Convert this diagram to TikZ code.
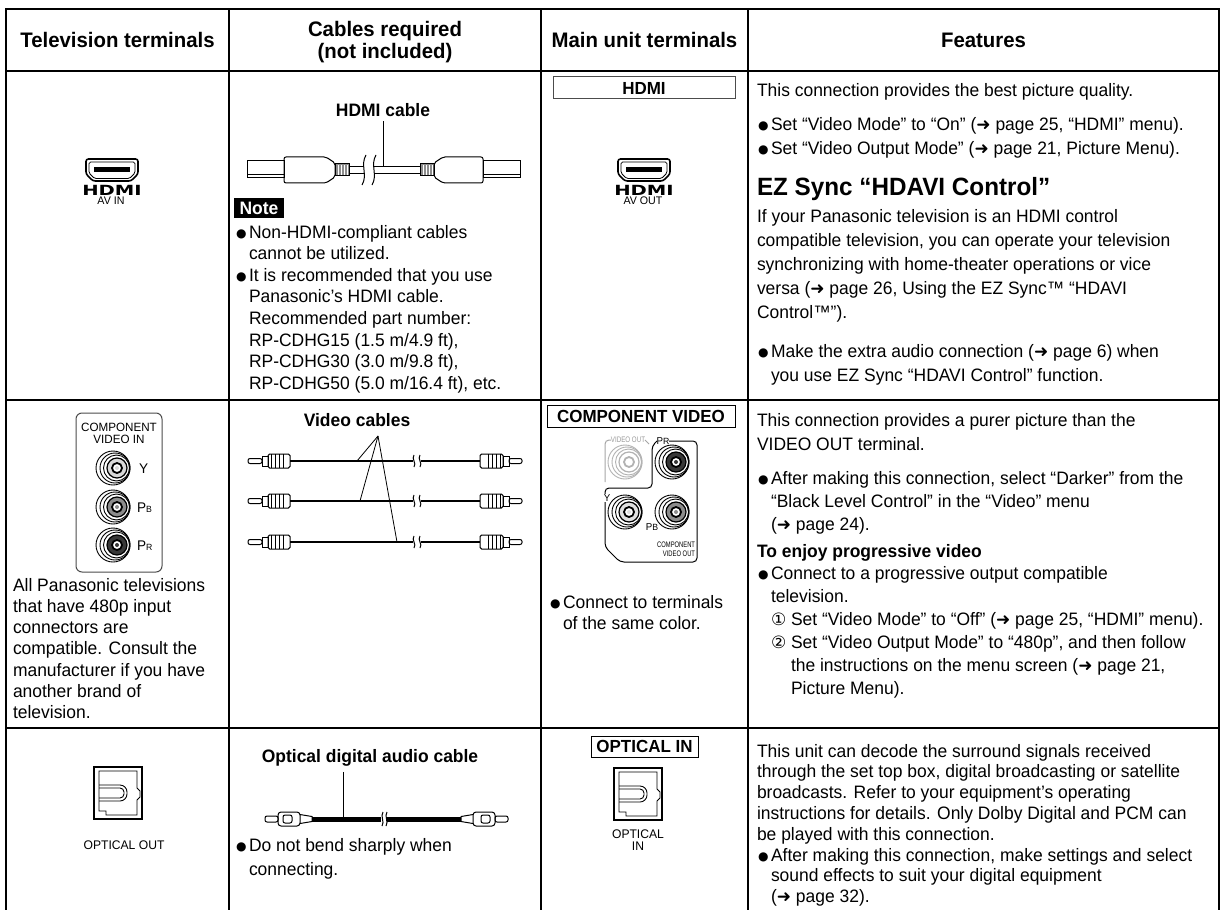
\documentclass[tikz,border=0pt]{standalone}
\usepackage{fontspec}
\usepackage{graphicx}
\setmainfont[FakeStretch=0.97]{Liberation Sans}
\newfontfamily\symf{DejaVu Sans}
\usetikzlibrary{calc}
\newcommand\bul{{\symf\fontsize{6}{6}\selectfont\raisebox{0.3pt}{●}}}
\newcommand\bl{\makebox[6.5pt][l]{\bul}}
\newcommand\arr{{\symf\fontsize{8.5}{9}\selectfont ➜}}
\newcommand\cnum[1]{\makebox[10pt][l]{\symf\fontsize{8.5}{9}\selectfont #1}}
\newcommand\txtline[4]{\node[tx] (#1) at (#2,#3) {#4};}
\newcommand\jsub[1]{{\fontsize{4.5}{5}\selectfont #1}}
% HDMI port icon: x, y, name prefix, label
\newcommand\HdmiPort[4]{%
\begin{scope}[shift={(#1,#2)}]
\draw[line width=0.8pt,rounded corners=1.2pt] (-26,-11) -- (26,-11) -- (26,4) -- (19,11) -- (-19,11) -- (-26,4) -- cycle;
\draw[line width=0.4pt,rounded corners=0.8pt] (-23,-8) -- (23,-8) -- (23,3) -- (17.5,8.5) -- (-17.5,8.5) -- (-23,3) -- cycle;
\fill (-18,-2.5) rectangle (18,2.5);
\node[inner sep=0pt,outer sep=0pt,font=\symf\bfseries\fontsize{7}{7}\selectfont] (#3logo) at (0,20) {\scalebox{1.4}[1]{HDMI}};
\node[inner sep=0pt,outer sep=0pt,font=\fontsize{5.5}{6}\selectfont] (#3lab) at (-1,31) {#4};
\end{scope}}
% RCA jack: x, y, inner fill, line colour
\newcommand\Jack[4]{%
\begin{scope}[shift={(#1,#2)}]
\draw[#4,line width=0.45pt,fill=white] (-2,0) circle (17);
\draw[#4,line width=0.45pt] (0,0) circle (15);
\draw[#4,line width=0.45pt] (1.5,0) circle (13);
\draw[#4,line width=0.6pt,fill=#3] (2,0) circle (10);
\draw[#4,line width=0.9pt,fill=white] (2,0) circle (5);
\fill[#3] (2,0) circle (2);
\end{scope}}
% optical port icon: top-left x, y
\newcommand\OptIcon[2]{%
\begin{scope}[shift={(#1,#2)}]
\draw[line width=0.9pt] (0,0) rectangle (48,52);
\draw[line width=0.45pt] (5,4) -- (43,4) -- (43,21) -- (46,24) -- (46,30) -- (43,33) -- (43,48) -- (12,48) -- (12,44) -- (5,44) -- cycle;
\draw[line width=0.45pt,rounded corners=3.5pt] (5,18) -- (33,18) -- (33,34) -- (5,34);
\draw[line width=0.45pt,rounded corners=2pt] (5,21) -- (30,21) -- (30,31) -- (5,31);
\end{scope}}
% video cable at height y
\newcommand\VCable[1]{%
\draw[pl,rounded corners=1pt] (248,#1-2.5) rectangle (262,#1+2.5);
\draw[pl] (262,#1-5) rectangle (268,#1+5);
\draw[pl,rounded corners=0.8pt] (268,#1-7) rectangle (290,#1+7);
\foreach \xr in {271,275,279,283} \draw[pl] (\xr,#1-7) -- (\xr,#1+7);
\draw[line width=1.3pt] (290,#1) -- (413,#1);
\draw[line width=1.3pt] (421,#1) -- (480,#1);
\draw[pl] (414,#1-6) .. controls (411,#1-2) and (417,#1+2) .. (414,#1+6);
\draw[pl] (420,#1-6) .. controls (417,#1-2) and (423,#1+2) .. (420,#1+6);
\draw[pl,rounded corners=0.8pt] (480,#1-7) rectangle (503,#1+7);
\foreach \xr in {488,492,496,500} \draw[pl] (\xr,#1-7) -- (\xr,#1+7);
\draw[pl] (503,#1-5) rectangle (509,#1+5);
\draw[pl,rounded corners=1pt] (509,#1-2.5) rectangle (522,#1+2.5);
}
\begin{document}
\begin{tikzpicture}[x=0.5pt,y=-0.5pt,
 tx/.style={inner sep=0pt,outer sep=0pt,anchor=base west,font=\fontsize{9}{10}\selectfont},
 txb/.style={inner sep=0pt,outer sep=0pt,anchor=base west,font=\fontsize{9}{10}\selectfont\bfseries},
 hd/.style={inner sep=0pt,outer sep=0pt,anchor=base,font=\fontsize{10.5}{12}\selectfont\bfseries},
 ctitle/.style={inner sep=0pt,outer sep=0pt,anchor=base,font=\fontsize{9}{10}\selectfont\bfseries},
 lbox/.style={draw,line width=0.5pt,inner sep=0pt,minimum height=11pt,font=\fontsize{8.75}{10}\selectfont\bfseries},
 grid/.style={line width=1pt},
 pl/.style={line width=0.5pt},
 tiny/.style={inner sep=0pt,outer sep=0pt,font=\fontsize{5.5}{6}\selectfont},
]
\useasboundingbox (0,0) rectangle (1224,909);
\fill[white] (0,0) rectangle (1224,909);
% ---- table grid
\draw[grid] (6,912) -- (6,9) -- (1219,9) -- (1219,912);
\draw[grid] (6,71) -- (1219,71);
\draw[grid] (6,400) -- (1219,400);
\draw[grid] (6,728) -- (1219,728);
\draw[grid] (229,9) -- (229,912);
\draw[grid] (541,9) -- (541,912);
\draw[grid] (748,9) -- (748,912);
% ---- header
\node[hd] (h1) at (117.5,47.5) {Television terminals};
\node[hd] (h2a) at (385,37) {Cables required};
\node[hd] (h2b) at (385,59) {(not included)};
\node[hd] (h3) at (644.5,47.5) {Main unit terminals};
\node[hd] (h4) at (983.5,47.5) {Features};

% ================= ROW 1 : HDMI
\HdmiPort{112}{170}{tv}{AV IN}
% HDMI cable
\node[ctitle] (hc) at (383,117) {HDMI cable};
\coordinate (hcl) at (383,166.5);
\draw[pl] ([yshift=-2pt]hc.south) -- (hcl);
\draw[pl] (247,161) rectangle (284,178);
\draw[pl] (247,175) -- (284,175);
\draw[pl,rounded corners=1pt] (284,157) -- (326,157) -- (335,163) -- (335,177) -- (326,183) -- (284,183) -- cycle;
\draw[pl,fill=black!45] (335,164) rectangle (349,176);
\foreach \xr in {338,341,344,347} \draw[white,line width=0.3pt] (\xr,165) -- (\xr,175);
\draw[pl] (349,166.5) -- (364,166.5);
\draw[pl] (349,173.5) -- (364,173.5);
\draw[pl] (374,166.5) -- (420,166.5);
\draw[pl] (374,173.5) -- (420,173.5);
\draw[pl] (366,155) .. controls (360,165) and (368,175) .. (362,185);
\draw[pl] (376,155) .. controls (370,165) and (378,175) .. (372,185);
\draw[pl,fill=black!45] (420,164) rectangle (434,176);
\foreach \xr in {423,426,429,432} \draw[white,line width=0.3pt] (\xr,165) -- (\xr,175);
\draw[pl,rounded corners=1pt] (434,163) -- (443,157) -- (483,157) -- (483,183) -- (443,183) -- (434,177) -- cycle;
\draw[pl] (483,161) rectangle (520,178);
\draw[pl] (483,175) -- (520,175);
% Note
\node[fill=black,text=white,inner sep=0pt,minimum width=25pt,minimum height=10pt,font=\fontsize{9}{10}\selectfont\bfseries] (note) at (259,208) {Note};
\txtline{n1a}{236}{238}{\bl Non-HDMI-compliant cables}
\txtline{n1b}{249}{259.6}{cannot be utilized.}
\txtline{n2a}{236}{281.2}{\bl It is recommended that you use}
\txtline{n2b}{249}{302.8}{Panasonic’s HDMI cable.}
\txtline{n2c}{249}{324.4}{Recommended part number:}
\txtline{n2d}{249}{346}{RP-CDHG15 (1.5 m/4.9 ft),}
\txtline{n2e}{249}{367.6}{RP-CDHG30 (3.0 m/9.8 ft),}
\txtline{n2f}{249}{389.2}{RP-CDHG50 (5.0 m/16.4 ft), etc.}
% main unit
\node[lbox,draw=black!70,minimum width=91pt] (lbh) at (644,88) {HDMI};
\HdmiPort{644}{170}{mu}{AV OUT}
% features
\txtline{f1}{757}{96.5}{This connection provides the best picture quality.}
\txtline{f2}{758}{130.5}{\bl Set “Video Mode” to “On” (\arr\ page 25, “HDMI” menu).}
\txtline{f3}{758}{154.5}{\bl Set “Video Output Mode” (\arr\ page 21, Picture Menu).}
\node[inner sep=0pt,outer sep=0pt,anchor=base west,font=\fontsize{12.5}{14}\selectfont\bfseries] (ez) at (757,196) {EZ Sync “HDAVI Control”};
\txtline{f4}{757}{222.5}{If your Panasonic television is an HDMI control}
\txtline{f5}{757}{246.5}{compatible television, you can operate your television}
\txtline{f6}{757}{270.5}{synchronizing with home-theater operations or vice}
\txtline{f7}{757}{294.5}{versa (\arr\ page 26, Using the EZ Sync™ “HDAVI}
\txtline{f8}{757}{318.5}{Control™”).}
\txtline{f9}{758}{357.5}{\bl Make the extra audio connection (\arr\ page 6) when}
\txtline{f10}{771}{381.5}{you use EZ Sync “HDAVI Control” function.}

% ================= ROW 2 : COMPONENT
\draw[black!70,line width=0.5pt,rounded corners=3pt] (76,413) rectangle (162,572);
\node[tiny,font=\fontsize{6}{6}\selectfont] (cvi1) at (119,427) {COMPONENT};
\node[tiny,font=\fontsize{6}{6}\selectfont] (cvi2) at (119,439) {VIDEO IN};
\Jack{115}{468}{black!15}{black}
\Jack{115}{507}{black!45}{black}
\Jack{115}{545}{black!78}{black}
\node[tiny,anchor=base west,font=\fontsize{7}{7}\selectfont] (ly) at (139,473) {Y};
\node[tiny,anchor=base west,font=\fontsize{7}{7}\selectfont] (lpb) at (137,512) {P\jsub{B}};
\node[tiny,anchor=base west,font=\fontsize{7}{7}\selectfont] (lpr) at (137,550) {P\jsub{R}};
\txtline{c1}{13}{591}{All Panasonic televisions}
\txtline{c2}{13}{612.3}{that have 480p input}
\txtline{c3}{13}{633.6}{connectors are}
\txtline{c4}{13}{654.9}{compatible. Consult the}
\txtline{c5}{13}{676.2}{manufacturer if you have}
\txtline{c6}{13}{697.5}{another brand of}
\txtline{c7}{13}{718.8}{television.}
% video cables
\node[ctitle] (vc) at (357,426.5) {Video cables};
\VCable{461}
\VCable{501}
\VCable{542}
\coordinate (va) at (378,436);
\coordinate (v1) at (357,461);
\coordinate (v2) at (360,501);
\coordinate (v3) at (397,542);
\draw[line width=0.4pt] (va) -- (v1);
\draw[line width=0.4pt] (va) -- (v2);
\draw[line width=0.4pt] (va) -- (v3);
% main unit component
\node[lbox,minimum width=94pt] (lbc) at (641,416) {COMPONENT VIDEO};
\draw[black!35,pl,rounded corners=2pt] (611,440) -- (605,440) -- (605,482);
\node[tiny,text=black!40,font=\fontsize{4}{4}\selectfont] (vo) at (628,440) {\scalebox{0.8}[1]{VIDEO OUT}};
\draw[black!35,pl] (645,440) -- (649,444);
\Jack{627}{462}{white}{black!30}
\draw[pl,rounded corners=2pt] (669,441) -- (697,441) -- (697,562) -- (620,562) -- (605,547) -- (605,488) -- (652,488) -- (652,446) -- (657,441);
\node[tiny,font=\fontsize{5}{5}\selectfont] (pr2) at (663,441) {P\jsub{R}};
\Jack{674}{462}{black!78}{black}
\Jack{627}{512}{black!12}{black}
\Jack{674}{512}{black!45}{black}
\node[tiny,fill=white,inner sep=0.4pt,font=\fontsize{5}{5}\selectfont] (y2) at (607,498) {Y};
\node[tiny,font=\fontsize{5}{5}\selectfont] (pb2) at (652,527) {P\jsub{B}};
\node[tiny,anchor=base east,font=\fontsize{4}{4}\selectfont] (co1) at (695,547) {\scalebox{0.75}[1]{COMPONENT}};
\node[tiny,anchor=base east,font=\fontsize{4}{4}\selectfont] (co2) at (695,556) {\scalebox{0.75}[1]{VIDEO OUT}};
\txtline{m1}{550}{608.5}{\bl Connect to terminals}
\txtline{m2}{563}{629.5}{of the same color.}
% features
\txtline{g1}{757}{426.5}{This connection provides a purer picture than the}
\txtline{g2}{757}{450.5}{VIDEO OUT terminal.}
\txtline{g3}{758}{484.5}{\bl After making this connection, select “Darker” from the}
\txtline{g4}{771}{507.5}{“Black Level Control” in the “Video” menu}
\txtline{g5}{771}{530.5}{(\arr\ page 24).}
\node[txb] (g6) at (757,557.5) {To enjoy progressive video};
\txtline{g7}{758}{579.5}{\bl Connect to a progressive output compatible}
\txtline{g8}{771}{602.5}{television.}
\txtline{g9}{771}{625.5}{\cnum{①}Set “Video Mode” to “Off” (\arr\ page 25, “HDMI” menu).}
\txtline{g10}{771}{648.5}{\cnum{②}Set “Video Output Mode” to “480p”, and then follow}
\txtline{g11}{791}{671.5}{the instructions on the menu screen (\arr\ page 21,}
\txtline{g12}{791}{694.5}{Picture Menu).}

% ================= ROW 3 : OPTICAL
\OptIcon{94}{767}
\node[tiny,anchor=base,font=\fontsize{6.25}{7}\selectfont] (oo) at (124,849) {OPTICAL OUT};
\node[ctitle] (oc) at (370,762) {Optical digital audio cable};
\coordinate (ocl) at (343,816.5);
\draw[pl] ([yshift=-3pt]oc.south -| ocl) -- (ocl);
\draw[pl,rounded corners=1pt] (265,816) rectangle (278,822);
\draw[pl,rounded corners=1.5pt] (278,812) rectangle (300,826);
\draw[pl,rounded corners=1pt] (283,815) rectangle (292,823);
\draw[pl] (300,814.5) -- (312,816.5) -- (312,821.5) -- (300,823.5);
\fill (312,816.5) rectangle (381,821.5);
\fill (387,816.5) rectangle (461,821.5);
\draw[pl] (383,812) .. controls (380,816) and (385,822) .. (382,826);
\draw[pl] (387,812) .. controls (384,816) and (389,822) .. (386,826);
\draw[pl] (473,814.5) -- (461,816.5) -- (461,821.5) -- (473,823.5);
\draw[pl,rounded corners=1.5pt] (473,812) rectangle (495,826);
\draw[pl,rounded corners=1pt] (481,815) rectangle (490,823);
\draw[pl,rounded corners=1pt] (495,816) rectangle (508,822);
\txtline{o1}{236}{851}{\bl Do not bend sharply when}
\txtline{o2}{249}{875}{connecting.}
% main unit optical
\node[lbox,minimum width=53.5pt,minimum height=10.5pt] (lbo) at (644.5,746.5) {OPTICAL IN};
\OptIcon{614}{768}
\node[tiny,anchor=base,font=\fontsize{6.25}{7}\selectfont] (oi1) at (638,838) {OPTICAL};
\node[tiny,anchor=base,font=\fontsize{6.25}{7}\selectfont] (oi2) at (638,850) {IN};
% features
\txtline{p1}{757}{757}{This unit can decode the surround signals received}
\txtline{p2}{757}{777.8}{through the set top box, digital broadcasting or satellite}
\txtline{p3}{757}{798.6}{broadcasts. Refer to your equipment’s operating}
\txtline{p4}{757}{819.4}{instructions for details. Only Dolby Digital and PCM can}
\txtline{p5}{757}{840.2}{be played with this connection.}
\txtline{p6}{758}{861}{\bl After making this connection, make settings and select}
\txtline{p7}{771}{881.8}{sound effects to suit your digital equipment}
\txtline{p8}{771}{902.6}{(\arr\ page 32).}
\end{tikzpicture}
\end{document}
